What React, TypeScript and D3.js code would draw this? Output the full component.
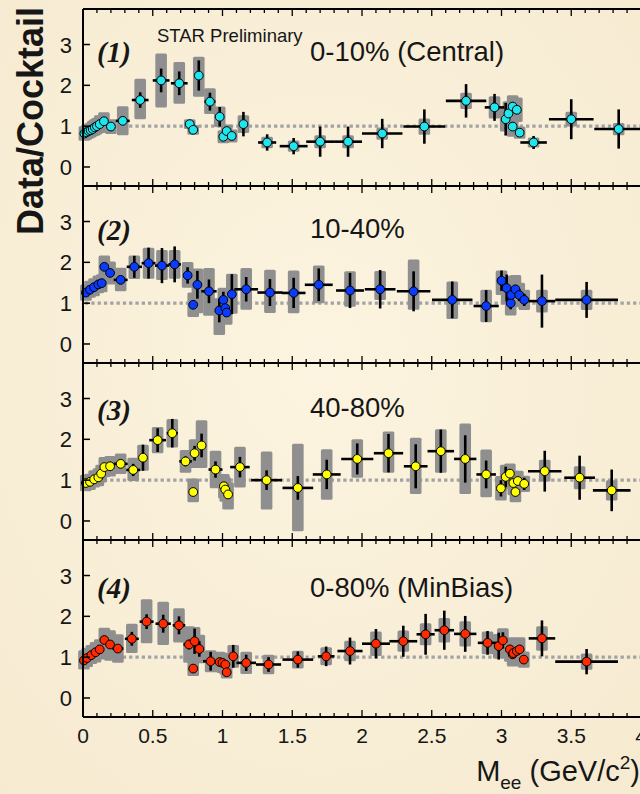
import React from 'react';
import * as d3 from 'd3';

// Each point: [mass (GeV/c^2), data/cocktail ratio, stat. error, bin half-width, sys. down, sys. up]
type Pt = [number, number, number, number, number, number];

const central: Pt[] = [
  [0.01, 0.82, 0.03, 0, 0.18, 0.18],
  [0.025, 0.85, 0.03, 0, 0.18, 0.18],
  [0.04, 0.88, 0.03, 0, 0.18, 0.18],
  [0.055, 0.9, 0.03, 0, 0.18, 0.18],
  [0.07, 0.93, 0.03, 0, 0.18, 0.2],
  [0.085, 0.97, 0.03, 0, 0.2, 0.2],
  [0.1, 1.0, 0.03, 0, 0.2, 0.2],
  [0.12, 1.05, 0.03, 0, 0.22, 0.22],
  [0.15, 1.12, 0.04, 0, 0.22, 0.22],
  [0.2, 0.99, 0.04, 0, 0.18, 0.18],
  [0.285, 1.13, 0.08, 0.05, 0.35, 0.36],
  [0.41, 1.64, 0.19, 0.06, 0.47, 0.52],
  [0.56, 2.12, 0.29, 0.06, 0.66, 0.66],
  [0.69, 2.05, 0.29, 0.06, 0.5, 0.52],
  [0.765, 1.05, 0.05, 0, 0.12, 0.12],
  [0.79, 0.91, 0.05, 0, 0.12, 0.12],
  [0.83, 2.24, 0.37, 0, 0.52, 0.46],
  [0.91, 1.6, 0.22, 0.04, 0.3, 0.33],
  [0.98, 1.23, 0.24, 0, 0.25, 0.25],
  [1.006, 0.74, 0.05, 0, 0.16, 0.16],
  [1.03, 0.88, 0.05, 0, 0.16, 0.16],
  [1.066, 0.76, 0.05, 0, 0.16, 0.16],
  [1.15, 1.05, 0.3, 0, 0.22, 0.22],
  [1.32, 0.6, 0.2, 0.065, 0.14, 0.14],
  [1.51, 0.51, 0.2, 0.1, 0.14, 0.14],
  [1.7, 0.62, 0.37, 0.1, 0.16, 0.16],
  [1.9, 0.62, 0.37, 0.1, 0.16, 0.16],
  [2.145, 0.82, 0.36, 0.145, 0.15, 0.15],
  [2.447, 0.99, 0.42, 0.15, 0.2, 0.2],
  [2.746, 1.62, 0.41, 0.145, 0.2, 0.2],
  [2.95, 1.46, 0.33, 0.07, 0.27, 0.27],
  [3.03, 1.17, 0.4, 0, 0.3, 0.3],
  [3.05, 1.31, 0.1, 0, 0.3, 0.3],
  [3.08, 1.48, 0.1, 0, 0.3, 0.28],
  [3.11, 1.4, 0.1, 0, 0.3, 0.3],
  [3.08, 0.99, 0.1, 0, 0.25, 0.25],
  [3.13, 0.84, 0.1, 0, 0.15, 0.15],
  [3.23, 0.6, 0.16, 0.095, 0.12, 0.12],
  [3.5, 1.17, 0.49, 0.16, 0.18, 0.18],
  [3.84, 0.93, 0.48, 0.175, 0.15, 0.15],
];

const midCentral: Pt[] = [
  [0.021, 1.26, 0.03, 0, 0.2, 0.2],
  [0.05, 1.33, 0.03, 0, 0.2, 0.22],
  [0.079, 1.39, 0.03, 0, 0.22, 0.22],
  [0.11, 1.46, 0.03, 0, 0.22, 0.22],
  [0.134, 1.49, 0.03, 0, 0.22, 0.22],
  [0.153, 1.89, 0.05, 0, 0.3, 0.28],
  [0.194, 1.74, 0.05, 0, 0.28, 0.28],
  [0.27, 1.57, 0.08, 0.05, 0.28, 0.3],
  [0.368, 1.89, 0.27, 0.055, 0.3, 0.28],
  [0.47, 1.98, 0.38, 0.05, 0.38, 0.38],
  [0.566, 1.92, 0.43, 0.05, 0.35, 0.38],
  [0.657, 1.95, 0.44, 0.045, 0.35, 0.35],
  [0.75, 1.68, 0.2, 0, 0.3, 0.33],
  [0.79, 0.96, 0.1, 0, 0.3, 0.3],
  [0.82, 1.45, 0.34, 0, 0.7, 0.4],
  [0.903, 1.29, 0.29, 0.055, 0.6, 0.57],
  [0.977, 0.82, 0.29, 0, 0.6, 0.3],
  [1.006, 1.08, 0.2, 0, 0.3, 0.3],
  [1.02, 0.88, 0.1, 0, 0.3, 0.3],
  [1.03, 0.77, 0.1, 0, 0.3, 0.3],
  [1.067, 1.22, 0.49, 0, 0.48, 0.5],
  [1.17, 1.34, 0.3, 0.085, 0.5, 0.52],
  [1.34, 1.26, 0.33, 0.09, 0.5, 0.56],
  [1.51, 1.25, 0.37, 0.085, 0.5, 0.55],
  [1.69, 1.45, 0.4, 0.1, 0.45, 0.47],
  [1.914, 1.31, 0.43, 0.1, 0.4, 0.47],
  [2.13, 1.34, 0.47, 0.11, 0.26, 0.45],
  [2.37, 1.29, 0.49, 0.12, 0.45, 0.78],
  [2.647, 1.08, 0.45, 0.145, 0.47, 0.45],
  [2.89, 0.93, 0.39, 0.09, 0.4, 0.4],
  [3.0, 1.55, 0.25, 0, 0.35, 0.25],
  [3.037, 1.37, 0.33, 0, 0.4, 0.3],
  [3.066, 1.0, 0.15, 0, 0.3, 0.3],
  [3.07, 1.2, 0.1, 0, 0.3, 0.3],
  [3.1, 1.34, 0.1, 0, 0.35, 0.35],
  [3.127, 1.2, 0.15, 0, 0.3, 0.3],
  [3.163, 1.08, 0.15, 0, 0.25, 0.25],
  [3.29, 1.05, 0.65, 0.095, 0.28, 0.28],
  [3.61, 1.08, 0.44, 0.225, 0.25, 0.25],
];

const peripheral: Pt[] = [
  [0.02, 0.93, 0.03, 0, 0.2, 0.2],
  [0.05, 0.96, 0.03, 0, 0.2, 0.2],
  [0.08, 1.02, 0.03, 0, 0.2, 0.22],
  [0.11, 1.07, 0.03, 0, 0.22, 0.22],
  [0.13, 1.16, 0.03, 0, 0.22, 0.22],
  [0.153, 1.32, 0.04, 0, 0.25, 0.25],
  [0.194, 1.34, 0.04, 0, 0.25, 0.25],
  [0.27, 1.4, 0.05, 0.05, 0.25, 0.25],
  [0.36, 1.25, 0.15, 0.05, 0.27, 0.3],
  [0.43, 1.55, 0.32, 0, 0.32, 0.32],
  [0.535, 1.98, 0.29, 0.06, 0.32, 0.32],
  [0.64, 2.15, 0.35, 0.04, 0.35, 0.35],
  [0.735, 1.46, 0.12, 0.045, 0.28, 0.28],
  [0.79, 0.71, 0.04, 0, 0.25, 0.33],
  [0.8, 1.66, 0.18, 0, 0.36, 0.34],
  [0.85, 1.85, 0.29, 0, 0.55, 0.62],
  [0.95, 1.26, 0.2, 0.05, 0.46, 0.46],
  [1.01, 0.85, 0.06, 0, 0.3, 0.3],
  [1.02, 0.77, 0.06, 0, 0.3, 0.3],
  [1.04, 0.65, 0.06, 0, 0.37, 0.3],
  [1.125, 1.32, 0.25, 0.07, 0.5, 0.5],
  [1.316, 1.0, 0.24, 0.11, 0.72, 0.7],
  [1.54, 0.81, 0.29, 0.11, 1.06, 1.08],
  [1.747, 1.14, 0.36, 0.1, 0.62, 0.62],
  [1.966, 1.52, 0.38, 0.115, 0.46, 0.48],
  [2.19, 1.66, 0.47, 0.105, 0.48, 0.53],
  [2.385, 1.34, 0.54, 0.085, 0.68, 0.7],
  [2.565, 1.71, 0.53, 0.095, 0.53, 0.54],
  [2.74, 1.52, 0.58, 0.08, 0.86, 0.87],
  [2.89, 1.14, 0.34, 0.07, 0.56, 0.61],
  [2.996, 0.8, 0.2, 0, 0.3, 0.3],
  [3.03, 1.08, 0.25, 0, 0.3, 0.3],
  [3.06, 1.16, 0.1, 0, 0.25, 0.25],
  [3.085, 0.93, 0.1, 0, 0.3, 0.3],
  [3.1, 0.71, 0.1, 0, 0.25, 0.25],
  [3.117, 0.98, 0.1, 0, 0.25, 0.25],
  [3.163, 0.91, 0.15, 0, 0.2, 0.2],
  [3.31, 1.22, 0.5, 0.12, 0.25, 0.28],
  [3.56, 1.06, 0.54, 0.11, 0.28, 0.28],
  [3.79, 0.75, 0.51, 0.135, 0.25, 0.25],
];

const minBias: Pt[] = [
  [0.007, 0.92, 0.03, 0, 0.22, 0.25],
  [0.03, 0.98, 0.03, 0, 0.22, 0.25],
  [0.06, 1.05, 0.03, 0, 0.22, 0.25],
  [0.09, 1.12, 0.03, 0, 0.25, 0.25],
  [0.12, 1.19, 0.03, 0, 0.25, 0.25],
  [0.153, 1.42, 0.05, 0, 0.4, 0.3],
  [0.194, 1.31, 0.05, 0, 0.4, 0.35],
  [0.25, 1.21, 0.05, 0.04, 0.35, 0.35],
  [0.35, 1.45, 0.17, 0.05, 0.35, 0.37],
  [0.456, 1.87, 0.18, 0.05, 0.53, 0.55],
  [0.575, 1.82, 0.22, 0.055, 0.52, 0.54],
  [0.688, 1.78, 0.22, 0.045, 0.42, 0.42],
  [0.76, 1.31, 0.12, 0.04, 0.45, 0.45],
  [0.79, 0.72, 0.03, 0, 0.18, 0.18],
  [0.8, 1.39, 0.31, 0, 0.45, 0.35],
  [0.834, 1.2, 0.19, 0, 0.35, 0.35],
  [0.915, 0.9, 0.23, 0.055, 0.27, 0.27],
  [0.98, 0.88, 0.06, 0, 0.25, 0.25],
  [1.0, 0.86, 0.06, 0, 0.25, 0.25],
  [1.02, 0.82, 0.06, 0, 0.25, 0.25],
  [1.03, 0.63, 0.06, 0, 0.15, 0.2],
  [1.077, 1.02, 0.28, 0, 0.28, 0.28],
  [1.17, 0.86, 0.2, 0.07, 0.27, 0.27],
  [1.33, 0.82, 0.18, 0.09, 0.24, 0.24],
  [1.54, 0.94, 0.2, 0.11, 0.22, 0.22],
  [1.743, 1.02, 0.24, 0.06, 0.22, 0.22],
  [1.914, 1.15, 0.33, 0.09, 0.25, 0.25],
  [2.1, 1.33, 0.36, 0.1, 0.3, 0.3],
  [2.296, 1.39, 0.38, 0.1, 0.26, 0.26],
  [2.456, 1.56, 0.5, 0.065, 0.27, 0.27],
  [2.59, 1.66, 0.48, 0.07, 0.3, 0.3],
  [2.74, 1.57, 0.44, 0.08, 0.31, 0.31],
  [2.9, 1.35, 0.29, 0.07, 0.28, 0.28],
  [2.98, 1.27, 0.33, 0, 0.3, 0.3],
  [3.01, 1.41, 0.2, 0, 0.3, 0.3],
  [3.06, 1.19, 0.1, 0, 0.3, 0.3],
  [3.08, 1.07, 0.1, 0, 0.3, 0.3],
  [3.085, 1.1, 0.1, 0, 0.3, 0.3],
  [3.11, 1.15, 0.1, 0, 0.3, 0.3],
  [3.13, 1.19, 0.1, 0, 0.3, 0.3],
  [3.16, 0.94, 0.1, 0, 0.2, 0.2],
  [3.29, 1.46, 0.44, 0.095, 0.3, 0.3],
  [3.61, 0.89, 0.31, 0.225, 0.2, 0.2],
];

const panelData: Pt[][] = [central, midCentral, peripheral, minBias];
const panelNames = ['0-10% (Central)', '10-40%', '40-80%', '0-80% (MinBias)'];
const panelTags = ['(1)', '(2)', '(3)', '(4)'];
const markerColors = ['#1fe6ee', '#0a3cff', '#ffff00', '#ff2a00'];
const xTickValues = [0, 0.5, 1, 1.5, 2, 2.5, 3, 3.5, 4];
const xTickLabels = ['0', '0.5', '1', '1.5', '2', '2.5', '3', '3.5', '4'];
const yTickValues = [0, 1, 2, 3];

const W = 640;
const H = 794;
const LEFT = 83;
const RIGHT = 641;
const TOP = 9;
const PANEL_H = 177;
const nameBaselines = [61, 238, 417, 597];
const tagBaselines = [62, 240, 420, 598];
const SANS = '"Liberation Sans", Arial, Helvetica, sans-serif';
const SERIF = '"Liberation Serif", "Times New Roman", serif';
const INK = '#161616';

const x = d3.scaleLinear().domain([0, 4]).range([LEFT, RIGHT]);
const minorTicks = d3.range(0, 4.0001, 0.1);
const BOX_HALF = 5.8;

function Panel({ idx }: { idx: number }) {
  const top = TOP + idx * PANEL_H;
  const bottom = top + PANEL_H;
  const y = d3.scaleLinear().domain([-0.466, 3.87]).range([bottom, top]);
  const pts = panelData[idx];
  const color = markerColors[idx];
  return (
    <g>
      {/* unity reference line */}
      <line x1={x(0) + 2} x2={W} y1={y(1)} y2={y(1)} stroke="#a3a3a3" strokeWidth={3.2} strokeDasharray="3.3 3" />
      {/* systematic boxes */}
      {pts.map((p, i) => (
        <rect key={'s' + i} x={x(p[0]) - BOX_HALF} width={BOX_HALF * 2} y={y(p[1] + p[5])}
          height={y(p[1] - p[4]) - y(p[1] + p[5])} fill="#8f8f8f" rx={1.5} />
      ))}
      {/* statistical errors and bin widths */}
      {pts.map((p, i) => (
        <g key={'e' + i} stroke="#000" strokeWidth={2.6}>
          <line x1={x(p[0])} x2={x(p[0])} y1={y(p[1] - p[2])} y2={y(p[1] + p[2])} />
          {p[3] > 0 && <line x1={x(p[0] - p[3])} x2={x(p[0] + p[3])} y1={y(p[1])} y2={y(p[1])} />}
        </g>
      ))}
      {pts.map((p, i) => (
        <circle key={'m' + i} cx={x(p[0])} cy={y(p[1])} r={4.4} fill={color} stroke="#000" strokeWidth={1} />
      ))}
      {/* frame lines */}
      <line x1={LEFT} x2={W} y1={top} y2={top} stroke="#000" strokeWidth={2} />
      <line x1={LEFT} x2={W} y1={bottom} y2={bottom} stroke="#000" strokeWidth={2} />
      <line x1={LEFT} x2={LEFT} y1={top} y2={bottom} stroke="#000" strokeWidth={2} />
      {/* x ticks, pointing inward from top and bottom */}
      {minorTicks.map((t, i) => {
        const major = Math.abs(t * 2 - Math.round(t * 2)) < 1e-6;
        const len = major ? 7 : 4;
        return (
          <g key={'xt' + i} stroke="#000" strokeWidth={1.3}>
            <line x1={x(t)} x2={x(t)} y1={top} y2={top + len} />
            <line x1={x(t)} x2={x(t)} y1={bottom} y2={bottom - len} />
          </g>
        );
      })}
      {yTickValues.map((v) => (
        <g key={'yt' + v}>
          <line x1={LEFT} x2={LEFT + 7} y1={y(v)} y2={y(v)} stroke="#000" strokeWidth={1.5} />
          <text x={72} y={y(v) + 8} textAnchor="end" fontFamily={SANS} fontSize={22} fill={INK}>{v}</text>
        </g>
      ))}
      <text x={97} y={tagBaselines[idx]} fontFamily={SERIF} fontSize={29} fontWeight="bold" fontStyle="italic" fill={INK}>
        {panelTags[idx]}
      </text>
      <text x={310} y={nameBaselines[idx]} fontFamily={SANS} fontSize={27.5} fill={INK}>{panelNames[idx]}</text>
      {idx === 0 && (
        <text x={157} y={41.5} fontFamily={SANS} fontSize={18.5} fill={INK}>STAR Preliminary</text>
      )}
    </g>
  );
}

export default function App() {
  const axisBottom = TOP + 4 * PANEL_H;
  return (
    <svg width={W} height={H} style={{ position: 'absolute', left: 0, top: 0 }}>
      <defs>
        <radialGradient id="paper" cx="50%" cy="45%" r="75%">
          <stop offset="0%" stopColor="#fcf4e0" />
          <stop offset="100%" stopColor="#f6ead0" />
        </radialGradient>
      </defs>
      <rect width={W} height={H} fill="url(#paper)" />
      {panelData.map((_, i) => <Panel key={i} idx={i} />)}
      {xTickValues.map((t, i) => (
        <text key={'xl' + i} x={x(t)} y={axisBottom + 26} textAnchor="middle" fontFamily={SANS} fontSize={21} fill={INK}>
          {xTickLabels[i]}
        </text>
      ))}
      <text x={W} y={781} textAnchor="end" fontFamily={SANS} fontSize={29} fill={INK}>
        M<tspan fontSize={19} dy={8}>ee</tspan><tspan dy={-8}> (GeV/c</tspan><tspan fontSize={19} dy={-12}>2</tspan><tspan dy={12}>)</tspan>
      </text>
      <text transform="translate(43,121) rotate(-90)" textAnchor="middle" fontFamily={SANS} fontSize={36} fontWeight="bold" fill={INK}>
        Data/Cocktail
      </text>
    </svg>
  );
}
